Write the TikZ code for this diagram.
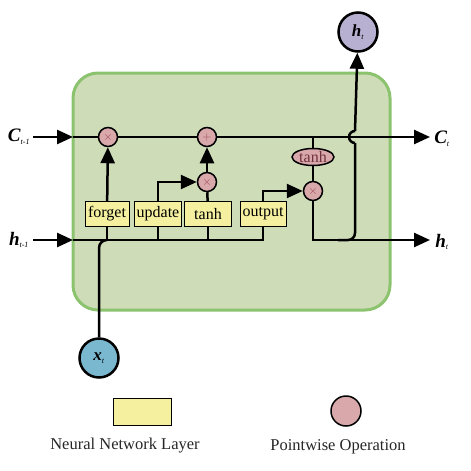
\documentclass[tikz,border=0pt]{standalone}
\usepackage{fontspec}
\setmainfont{Liberation Serif}
\usetikzlibrary{shapes.geometric,arrows.meta}
\definecolor{cellgreen}{HTML}{CFDCB8}
\definecolor{cellborder}{HTML}{8CC36E}
\definecolor{layeryellow}{HTML}{F5F0A0}
\definecolor{oppink}{HTML}{D8A8AA}
\definecolor{opred}{HTML}{A04858}
\definecolor{inblue}{HTML}{7AB8D0}
\definecolor{outpurple}{HTML}{B8B0D0}
\newcommand{\vecsub}[2]{#1\textsubscript{\fontsize{8}{8}\selectfont\mdseries #2}}
\begin{document}
\begin{tikzpicture}
  [x=1pt,y=-1pt,line width=2.5pt,>={Triangle[length=16pt,width=14pt]},
   layer/.style={draw,line width=1pt,fill=layeryellow,minimum height=25pt,inner sep=1pt,font=\fontsize{16}{17}\selectfont},
   op/.style={circle,draw,line width=1.5pt,fill=oppink,minimum size=19pt,inner sep=0pt,text=opred,font=\large},
   vec/.style={circle,draw,line width=2.5pt,minimum size=39pt,inner sep=0pt,font=\fontsize{17}{17}\bfseries\itshape\selectfont},
   lbl/.style={font=\fontsize{19}{19}\bfseries\itshape\selectfont},
   legend/.style={text=black!85,font=\fontsize{16.5}{17}\selectfont}]
  \useasboundingbox (0,0) rectangle (471,471);
  \draw[draw=cellborder,fill=cellgreen,line width=3pt,rounded corners=25pt] (73,73) rectangle (390,310);

  \node (mult1)[op] at (108,137) {$\times$};
  \node (add)[op] at (207,137) {$+$};
  \node (mult2)[op] at (207,182) {$\times$};
  \node (mult3)[op] at (313,191) {$\times$};
  \node (tanhc)[ellipse,draw,line width=1.5pt,fill=oppink,minimum width=42pt,minimum height=17pt,inner sep=0pt,text=opred!70!black,font=\fontsize{16}{16}\selectfont] at (313,157) {tanh};
  \node (forget)[layer,minimum width=44pt] at (107,214) {forget};
  \node (update)[layer,minimum width=47pt] at (158,214) {update};
  \node (tanhl)[layer,minimum width=47pt] at (208,214) {tanh};
  \node (output)[layer,minimum width=46pt] at (263,214) {output};
  \node (xt)[vec,fill=inblue] at (99,358) {\vecsub{x}{t}};
  \node (ht)[vec,fill=outpurple] at (358,32) {\vecsub{h}{t}};

  \node (cprev)[lbl] at (19,137) {\vecsub{C}{t-1}};
  \node (cnext)[lbl] at (442,139) {\vecsub{C}{t}};
  \node (hprev)[lbl] at (19,240) {\vecsub{h}{t-1}};
  \node (hnext)[lbl] at (442,242) {\vecsub{h}{t}};

  \coordinate (cin) at (33,137);
  \coordinate (cl) at (73,137);
  \coordinate (cout) at (430,137);
  \coordinate (hin) at (33,240);
  \coordinate (hl) at (73,240);
  \coordinate (hout) at (430,240);
  \coordinate (ctap) at (313,137);
  \coordinate (hup) at (338,240);
  \coordinate (hopb) at (355,143);
  \coordinate (hopt) at (355,131);

  \foreach \from/\to in {cin/cl,hin/hl,forget/mult1,mult2/add}
    \draw[->] (\from) -- (\to);
  \draw[->] (cl) -- (mult1) -- (add) -- (cout);
  \draw (hl) -| (output.south);
  \foreach \n in {forget,update,tanhl}
    \draw (\n.south) -- (\n.south |- hl);
  \draw (tanhl) -- (mult2);
  \draw[->] (update.north) |- (mult2);
  \draw[->] (output.north) |- (mult3);
  \draw (ctap) -- (tanhc) -- (mult3);
  \draw[->] (mult3) |- (hout);
  \draw[rounded corners=8pt] (xt) |- (forget.south |- hl);
  \draw[rounded corners=7pt] (hup) -| (hopb);
  \draw (hopb) arc[start angle=270,end angle=90,radius=6pt];
  \draw[->] (hopt) -- (ht);

  % legend
  \node (leglayer)[draw,line width=1pt,fill=layeryellow,minimum width=58pt,minimum height=27pt] at (142,412) {};
  \node (legop)[circle,draw,line width=1.5pt,fill=oppink,minimum size=30pt] at (346,411) {};
  \node[legend] at (125,446) {Neural Network Layer};
  \node[legend] at (338,447) {Pointwise Operation};
\end{tikzpicture}
\end{document}
